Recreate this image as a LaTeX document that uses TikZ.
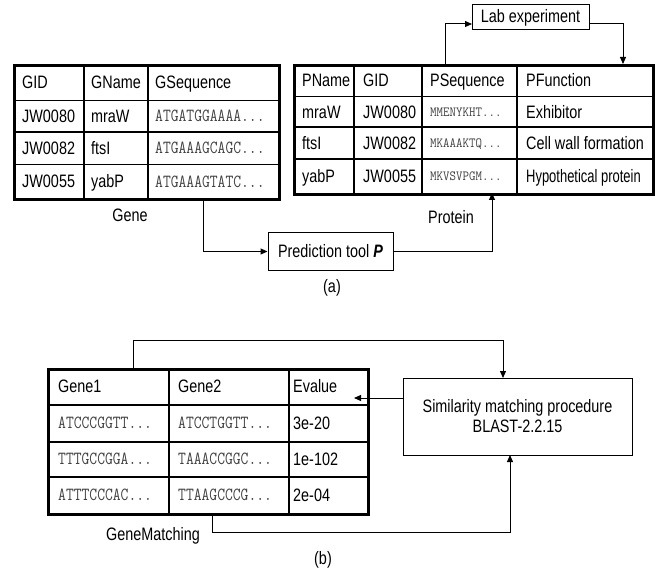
\documentclass[tikz,border=0pt]{standalone}
\usepackage{fontspec}
\setmainfont{Liberation Sans}[FakeStretch=0.8]
\usepackage{graphicx}
\usetikzlibrary{arrows.meta}
\definecolor{seqgray}{gray}{0.25}
\newcommand\seqA[1]{\scalebox{0.82}[1]{\fontsize{18.5}{18.5}\selectfont\ttfamily\color{seqgray}#1}}
\newcommand\seqB[1]{\scalebox{0.9}[1]{\fontsize{14}{14}\selectfont\ttfamily\color{seqgray}#1}}
\begin{document}
\begin{tikzpicture}[x=1pt,y=-1pt,
  every node/.style={font=\fontsize{18}{21}\selectfont},
  tbl/.style={draw, line width=2.6pt, inner sep=0pt, anchor=north west},
  grid/.style={line width=1.1pt},
  cell/.style={anchor=base west, inner sep=0pt},
  box/.style={draw, line width=1pt, inner sep=0pt},
  conn/.style={line width=1pt},
  arr/.style={conn, -{Triangle[length=7pt,width=6pt]}},
  lbl/.style={inner sep=0pt}]
\useasboundingbox (0,0) rectangle (656,572);

% ---------------- Gene table ----------------
\node[tbl, minimum width=265pt, minimum height=134.5pt] (gene) at (13,64) {};
\draw[grid] (84,64) -- (84,198.5) (148,64) -- (148,198.5)
            (13,100.5) -- (278,100.5) (13,132) -- (278,132) (13,164.5) -- (278,164.5);
\node[cell] (g11) at (22,88.6) {GID};
\node[cell] (g12) at (91,88.6) {GName};
\node[cell] (g13) at (155,88.6) {GSequence};
\node[cell] (g21) at (22,122.6) {JW0080};
\node[cell] (g22) at (91,122.6) {mraW};
\node[cell] (g23) at (155,121.8) {\seqA{ATGATGGAAAA...}};
\node[cell] (g31) at (22,154.6) {JW0082};
\node[cell] (g32) at (91,154.6) {ftsI};
\node[cell] (g33) at (155,153.8) {\seqA{ATGAAAGCAGC...}};
\node[cell] (g41) at (22,187.9) {JW0055};
\node[cell] (g42) at (91,187.9) {yabP};
\node[cell] (g43) at (155,187.1) {\seqA{ATGAAAGTATC...}};
\node[lbl] (genelbl) at (130,215) {Gene};

% ---------------- Protein table ----------------
\node[tbl, minimum width=359pt, minimum height=129pt] (prot) at (293,64) {};
\draw[grid] (354,64) -- (354,193) (422,64) -- (422,193) (517,64) -- (517,193)
            (293,96.7) -- (652,96.7) (293,127) -- (652,127) (293,159) -- (652,159);
\node[cell] (p11) at (302,86.8) {PName};
\node[cell] (p12) at (363,86.8) {GID};
\node[cell] (p13) at (430,86.8) {PSequence};
\node[cell] (p14) at (526,86.8) {PFunction};
\node[cell] (p21) at (302,118.2) {mraW};
\node[cell] (p22) at (363,118.2) {JW0080};
\node[cell] (p23) at (430,116.3) {\seqB{MMENYKHT...}};
\node[cell] (p24) at (526,118.2) {Exhibitor};
\node[cell] (p31) at (302,149.4) {ftsI};
\node[cell] (p32) at (363,149.4) {JW0082};
\node[cell] (p33) at (430,147.5) {\seqB{MKAAAKTQ...}};
\node[cell] (p34) at (526,149.4) {Cell wall formation};
\node[cell] (p41) at (302,182.4) {yabP};
\node[cell] (p42) at (363,182.4) {JW0055};
\node[cell] (p43) at (430,180.5) {\seqB{MKVSVPGM...}};
\node[cell] (p44) at (526,182.4) {\scalebox{0.9}[1]{Hypothetical protein}};
\node[lbl] (protlbl) at (451,217) {Protein};

% ---------------- Lab experiment ----------------
\node[box, minimum width=117pt, minimum height=25pt] (lab) at (530.5,17.5) {Lab experiment};
\coordinate (protA) at (445,64);
\coordinate (labL) at (472,24);
\coordinate (labR) at (589,24);
\coordinate (protB) at (623,64);
\draw[arr] (protA) |- (labL);
\draw[arr] (labR) -| (protB);

% ---------------- Prediction tool ----------------
\node[box, minimum width=125pt, minimum height=37pt] (pred) at (330.5,251.5) {Prediction tool \textbf{\textit{P}}};
\coordinate (geneB) at (203,198.5);
\coordinate (protC) at (492,193);
\draw[arr] (geneB) |- (pred.west);
\draw[arr] (pred.east) -| (protC);
\node[lbl] (alabel) at (332,288) {(a)};

% ---------------- GeneMatching table ----------------
\node[tbl, minimum width=320pt, minimum height=145pt] (gm) at (47,368) {};
\draw[grid] (169,368) -- (169,513) (289,368) -- (289,513)
            (47,405) -- (367,405) (47,442) -- (367,442) (47,477) -- (367,477);
\node[cell] (m11) at (58,392.9) {Gene1};
\node[cell] (m12) at (178,392.9) {Gene2};
\node[cell] (m13) at (293,392.9) {Evalue};
\node[cell] (m21) at (58,428.9) {\seqA{ATCCCGGTT...}};
\node[cell] (m22) at (178,428.9) {\seqA{ATCCTGGTT...}};
\node[cell] (m23) at (293,429.9) {3e-20};
\node[cell] (m31) at (58,464.9) {\seqA{TTTGCCGGA...}};
\node[cell] (m32) at (178,464.9) {\seqA{TAAACCGGC...}};
\node[cell] (m33) at (293,465.9) {1e-102};
\node[cell] (m41) at (58,500.4) {\seqA{ATTTCCCAC...}};
\node[cell] (m42) at (178,500.4) {\seqA{TTAAGCCCG...}};
\node[cell] (m43) at (293,501.4) {2e-04};
\node[lbl] (gmlbl) at (153,536) {GeneMatching};

% ---------------- Similarity box ----------------
\node[box, minimum width=229pt, minimum height=77pt, align=center] (sim) at (517.5,416.5)
  {Similarity matching procedure\\[-1pt]BLAST-2.2.15};
\coordinate (gmTop) at (133,368);
\coordinate (simTop) at (503,378);
\coordinate (simL) at (403,398);
\coordinate (evTip) at (354,398);
\coordinate (gmBot) at (212,513);
\coordinate (simBot) at (510,455);
\draw[arr] (gmTop) -- (133,340) -| (simTop);
\draw[arr] (simL) -- (evTip);
\draw[arr] (gmBot) -- (212,532) -| (simBot);
\node[lbl] (blabel) at (323,560) {(b)};
\end{tikzpicture}
\end{document}
